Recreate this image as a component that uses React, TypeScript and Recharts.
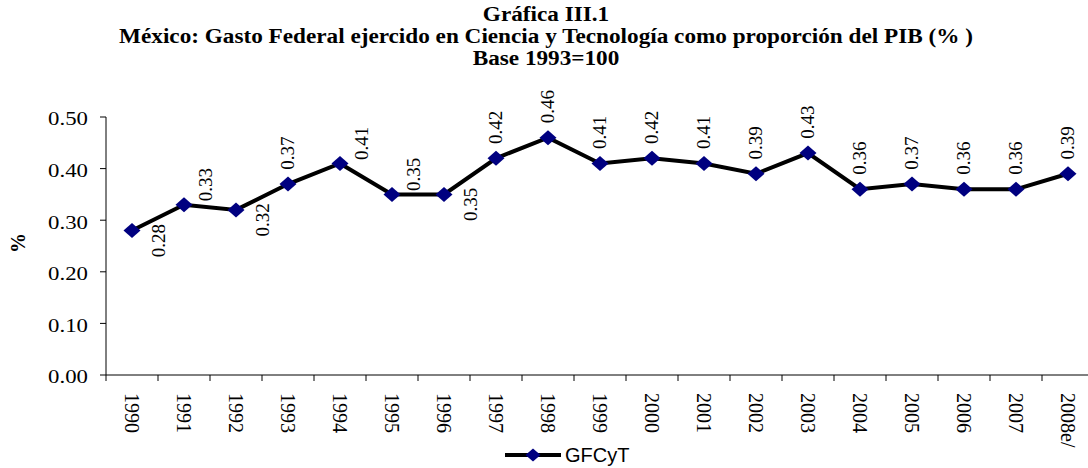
import { LineChart, Line, XAxis, YAxis, Legend, LabelList } from 'recharts';

const years = [
  '1990', '1991', '1992', '1993', '1994', '1995', '1996', '1997', '1998', '1999',
  '2000', '2001', '2002', '2003', '2004', '2005', '2006', '2007', '2008e/',
];
const gfcyt = [
  0.28, 0.33, 0.32, 0.37, 0.41, 0.35, 0.35, 0.42, 0.46, 0.41,
  0.42, 0.41, 0.39, 0.43, 0.36, 0.37, 0.36, 0.36, 0.39,
];
const yTicks = [0, 0.1, 0.2, 0.3, 0.4, 0.5];
const titleLines = [
  'Gráfica III.1',
  'México: Gasto Federal ejercido en Ciencia y Tecnología como proporción del PIB (% )',
  'Base 1993=100',
];
const seriesName = 'GFCyT';

// labels that Excel pushed under / beside the marker instead of above it
const labelsBelow = ['1990', '1992', '1996'];
const labelsBeside = ['1991', '1994', '1995'];

const data = years.map((year, i) => ({ year, gfcyt: gfcyt[i] }));

const W = 1100;
const H = 468;
const margin = { top: 117, right: 6, bottom: 0, left: 0 };
const yAxisW = 106;
const bandW = (W - margin.left - margin.right - yAxisW) / years.length;
const serif = '"Liberation Serif", "Times New Roman", serif';
const sans = '"Liberation Sans", Arial, sans-serif';
const navy = '#000080';

function Diamond({ cx, cy }: any) {
  if (cx == null || cy == null) return null;
  return (
    <polygon
      points={`${cx},${cy - 7.5} ${cx + 8.5},${cy} ${cx},${cy + 7.5} ${cx - 8.5},${cy}`}
      fill={navy}
    />
  );
}

function XTick({ x, y, payload, index }: any) {
  const left = x - bandW / 2;
  const last = index === years.length - 1;
  return (
    <g>
      <line x1={left} x2={left} y1={y} y2={y + 6} stroke="#000" />
      {last && <line x1={x + bandW / 2} x2={x + bandW / 2} y1={y} y2={y + 6} stroke="#000" />}
      <text
        x={x}
        y={y + 18}
        transform={`rotate(90 ${x} ${y + 18})`}
        textAnchor="start"
        dominantBaseline="central"
        fontSize={20}
        fontFamily={serif}
        fill="#000"
      >
        {payload.value}
      </text>
    </g>
  );
}

function YTick({ x, y, payload }: any) {
  return (
    <text
      transform={`translate(${x},${y + 2}) scale(1.2,1)`}
      textAnchor="end"
      dominantBaseline="central"
      fontSize={19}
      fontFamily={serif}
      fill="#000"
    >
      {Number(payload.value).toFixed(2)}
    </text>
  );
}

function PointLabel({ x, y, value, index }: any) {
  const year = years[index];
  let dx = 0;
  let dy = -31;
  if (labelsBelow.includes(year)) {
    dx = 27;
    dy = 10;
  } else if (labelsBeside.includes(year)) {
    dx = 22;
    dy = -20;
  }
  const cx = x + dx;
  const cy = y + dy;
  return (
    <text
      x={cx}
      y={cy}
      transform={`rotate(-90 ${cx} ${cy})`}
      textAnchor="middle"
      dominantBaseline="central"
      fontSize={19}
      fontFamily={serif}
      fill="#000"
    >
      {Number(value).toFixed(2)}
    </text>
  );
}

function LegendBox() {
  return (
    <svg width={220} height={26} style={{ display: 'block', marginLeft: 505 }}>
      <line x1={0} x2={56} y1={13} y2={13} stroke="#000" strokeWidth={4} />
      <polygon points="28,6.5 35.5,13 28,19.5 20.5,13" fill={navy} />
      <text x={60} y={13} dominantBaseline="central" fontSize={20} fontFamily={sans} fill="#000">
        {seriesName}
      </text>
    </svg>
  );
}

function PercentLabel({ viewBox }: any) {
  const cx = viewBox.x + 18;
  const cy = viewBox.y + viewBox.height / 2 - 3;
  return (
    <text
      x={cx}
      y={cy}
      transform={`rotate(-90 ${cx} ${cy})`}
      textAnchor="middle"
      dominantBaseline="central"
      fontSize={20}
      fontWeight="bold"
      fontFamily={serif}
      fill="#000"
    >
      %
    </text>
  );
}

export default function App() {
  return (
    <div
      style={{
        position: 'fixed',
        left: 0,
        top: 0,
        width: 1088,
        height: H,
        overflow: 'hidden',
        background: '#fff',
      }}
    >
      <div
        style={{
          position: 'absolute',
          top: 3,
          left: 2,
          width: 1088,
          textAlign: 'center',
          fontFamily: serif,
          fontWeight: 'bold',
          fontSize: 20,
          lineHeight: '22px',
          color: '#000',
          transform: 'scaleX(1.16)',
        }}
      >
        {titleLines.map((t) => (
          <div key={t}>{t}</div>
        ))}
      </div>
      <div style={{ position: 'absolute', left: 0, top: 0 }}>
        <LineChart width={W} height={H} data={data} margin={margin}>
          <XAxis
            dataKey="year"
            scale="band"
            interval={0}
            height={67}
            axisLine={{ stroke: '#000' }}
            tickLine={false}
            tickSize={0}
            tickMargin={0}
            tick={<XTick />}
          />
          <YAxis
            width={yAxisW}
            domain={[0, 0.5]}
            ticks={yTicks}
            axisLine={{ stroke: '#000' }}
            tickLine={{ stroke: '#000' }}
            tickSize={6}
            tickMargin={12}
            tick={<YTick />}
            label={{ value: '%', content: <PercentLabel /> }}
          />
          <Legend verticalAlign="bottom" align="left" height={26} content={<LegendBox />} />
          <Line
            type="linear"
            dataKey="gfcyt"
            name={seriesName}
            stroke="#000"
            strokeWidth={4}
            dot={<Diamond />}
            activeDot={false}
            isAnimationActive={false}
          >
            <LabelList dataKey="gfcyt" content={<PointLabel />} />
          </Line>
        </LineChart>
      </div>
    </div>
  );
}
